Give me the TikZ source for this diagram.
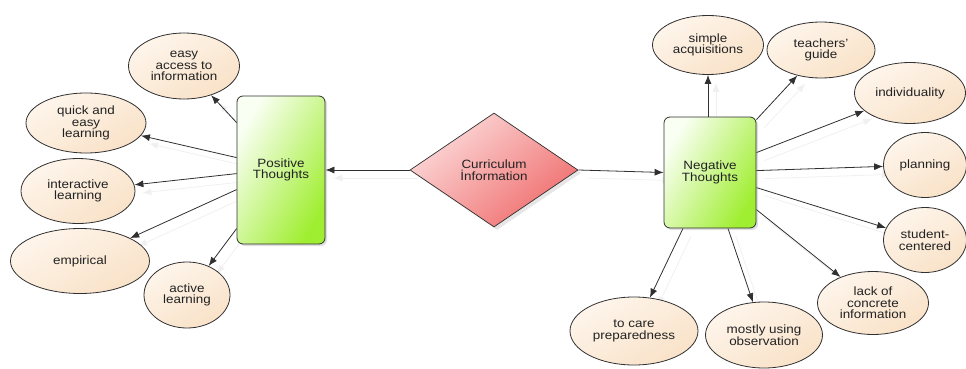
\documentclass[tikz,border=0pt]{standalone}
\usepackage{fontspec}
\setmainfont[FakeStretch=1.12]{Liberation Sans}
\usepackage{tikz}
\usetikzlibrary{shapes.geometric,arrows.meta,shadows,backgrounds}
\definecolor{txtgray}{HTML}{222222}
\definecolor{linegray}{HTML}{303030}

\begin{document}
\begin{tikzpicture}[
            x=1pt, y=-1pt,
            font=\fontsize{12}{11.7}\selectfont,
            thought/.style={draw=linegray, line width=0.8pt, rounded corners=6pt, align=center, text=txtgray,
                top color={rgb,255:red,250;green,255;blue,244}, middle color={rgb,255:red,236;green,253;blue,218},
                bottom color={rgb,255:red,160;green,238;blue,50}, shading angle=60,
                drop shadow={shadow xshift=2pt, shadow yshift=-2pt, opacity=0.25}},
            idea/.style={ellipse, draw=linegray, line width=0.8pt, inner sep=0pt, align=center, text=txtgray,
                top color={rgb,255:red,254;green,245;blue,235}, bottom color={rgb,255:red,249;green,226;blue,200},
                shading angle=30},
            info/.style={diamond, draw=linegray, line width=0.7pt, inner sep=0pt, align=center, text=txtgray,
                minimum width=168pt, minimum height=114pt,
                top color={rgb,255:red,252;green,218;blue,218}, middle color={rgb,255:red,248;green,172;blue,172},
                bottom color={rgb,255:red,240;green,110;blue,110}, shading angle=40,
                drop shadow={shadow xshift=3pt, shadow yshift=-3pt, opacity=0.2}},
            conn/.style={-{Latex[length=9pt,width=7pt]}, draw=linegray, line width=0.8pt},
            ghost/.style={conn, draw=black!6, transform canvas={xshift=8pt, yshift=-8pt}}
        ]

            \useasboundingbox (0,0) rectangle (966,369);

            \node[thought, minimum width=88pt, minimum height=148pt] (pos) at (281,170) {Positive\\Thoughts};
            \node[thought, minimum width=92pt, minimum height=111pt] (neg) at (710,172.5) {Negative\\Thoughts};
            \node[info] (cur) at (494,170) {Curriculum\\İnformation};

            \node[idea, minimum width=111pt, minimum height=66pt] (easy) at (184,66) {easy\\access to\\information};
            \node[idea, minimum width=120pt, minimum height=60pt] (quick) at (86,123) {quick and\\easy\\learning};
            \node[idea, minimum width=114pt, minimum height=65pt] (inter) at (78,191) {interactive\\learning};
            \node[idea, minimum width=139pt, minimum height=65pt] (emp) at (80,261) {empirical};
            \node[idea, minimum width=86pt, minimum height=66pt] (active) at (187,295) {active\\learning};

            \node[idea, minimum width=111pt, minimum height=59pt] (simple) at (708,45) {simple\\acquisitions};
            \node[idea, minimum width=108pt, minimum height=56pt] (guide) at (821,50) {teachers'\\guide};
            \node[idea, minimum width=111pt, minimum height=61pt] (indiv) at (910,93) {individuality};
            \node[idea, minimum width=83pt, minimum height=65pt] (plan) at (925,165) {planning};
            \node[idea, minimum width=83pt, minimum height=65pt] (student) at (925,240) {student-\\centered};
            \node[idea, minimum width=111pt, minimum height=63pt] (lack) at (873,303) {lack of\\concrete\\information};
            \node[idea, minimum width=117pt, minimum height=66pt] (observ) at (764,335) {mostly using\\observation};
            \node[idea, minimum width=128pt, minimum height=68pt] (care) at (634,331) {to care\\preparedness};

            \begin{scope}[on background layer]
            \foreach \s in {ghost, conn} {
                \draw[\s] (cur.west) -- (pos.east |- cur.west);
                \draw[\s] (cur.east) -- (neg.west);
                \foreach \dy/\tgt in {27/easy, 62/quick, 78/inter, 94/emp, 133/active}
                    \draw[\s] ([yshift=-\dy pt]pos.north west) -- (\tgt);
                \foreach \dy/\tgt in {3/guide, 36/indiv, 54/plan, 71/student, 93/lack}
                    \draw[\s] ([yshift=-\dy pt]neg.north east) -- (\tgt);
                \draw[\s] (neg.north -| simple) -- (simple);
                \draw[\s] ([xshift=18pt]neg.south) -- (observ);
                \draw[\s] ([xshift=-27pt]neg.south) -- (care);
            }
            \end{scope}
        \end{tikzpicture}
\end{document}
